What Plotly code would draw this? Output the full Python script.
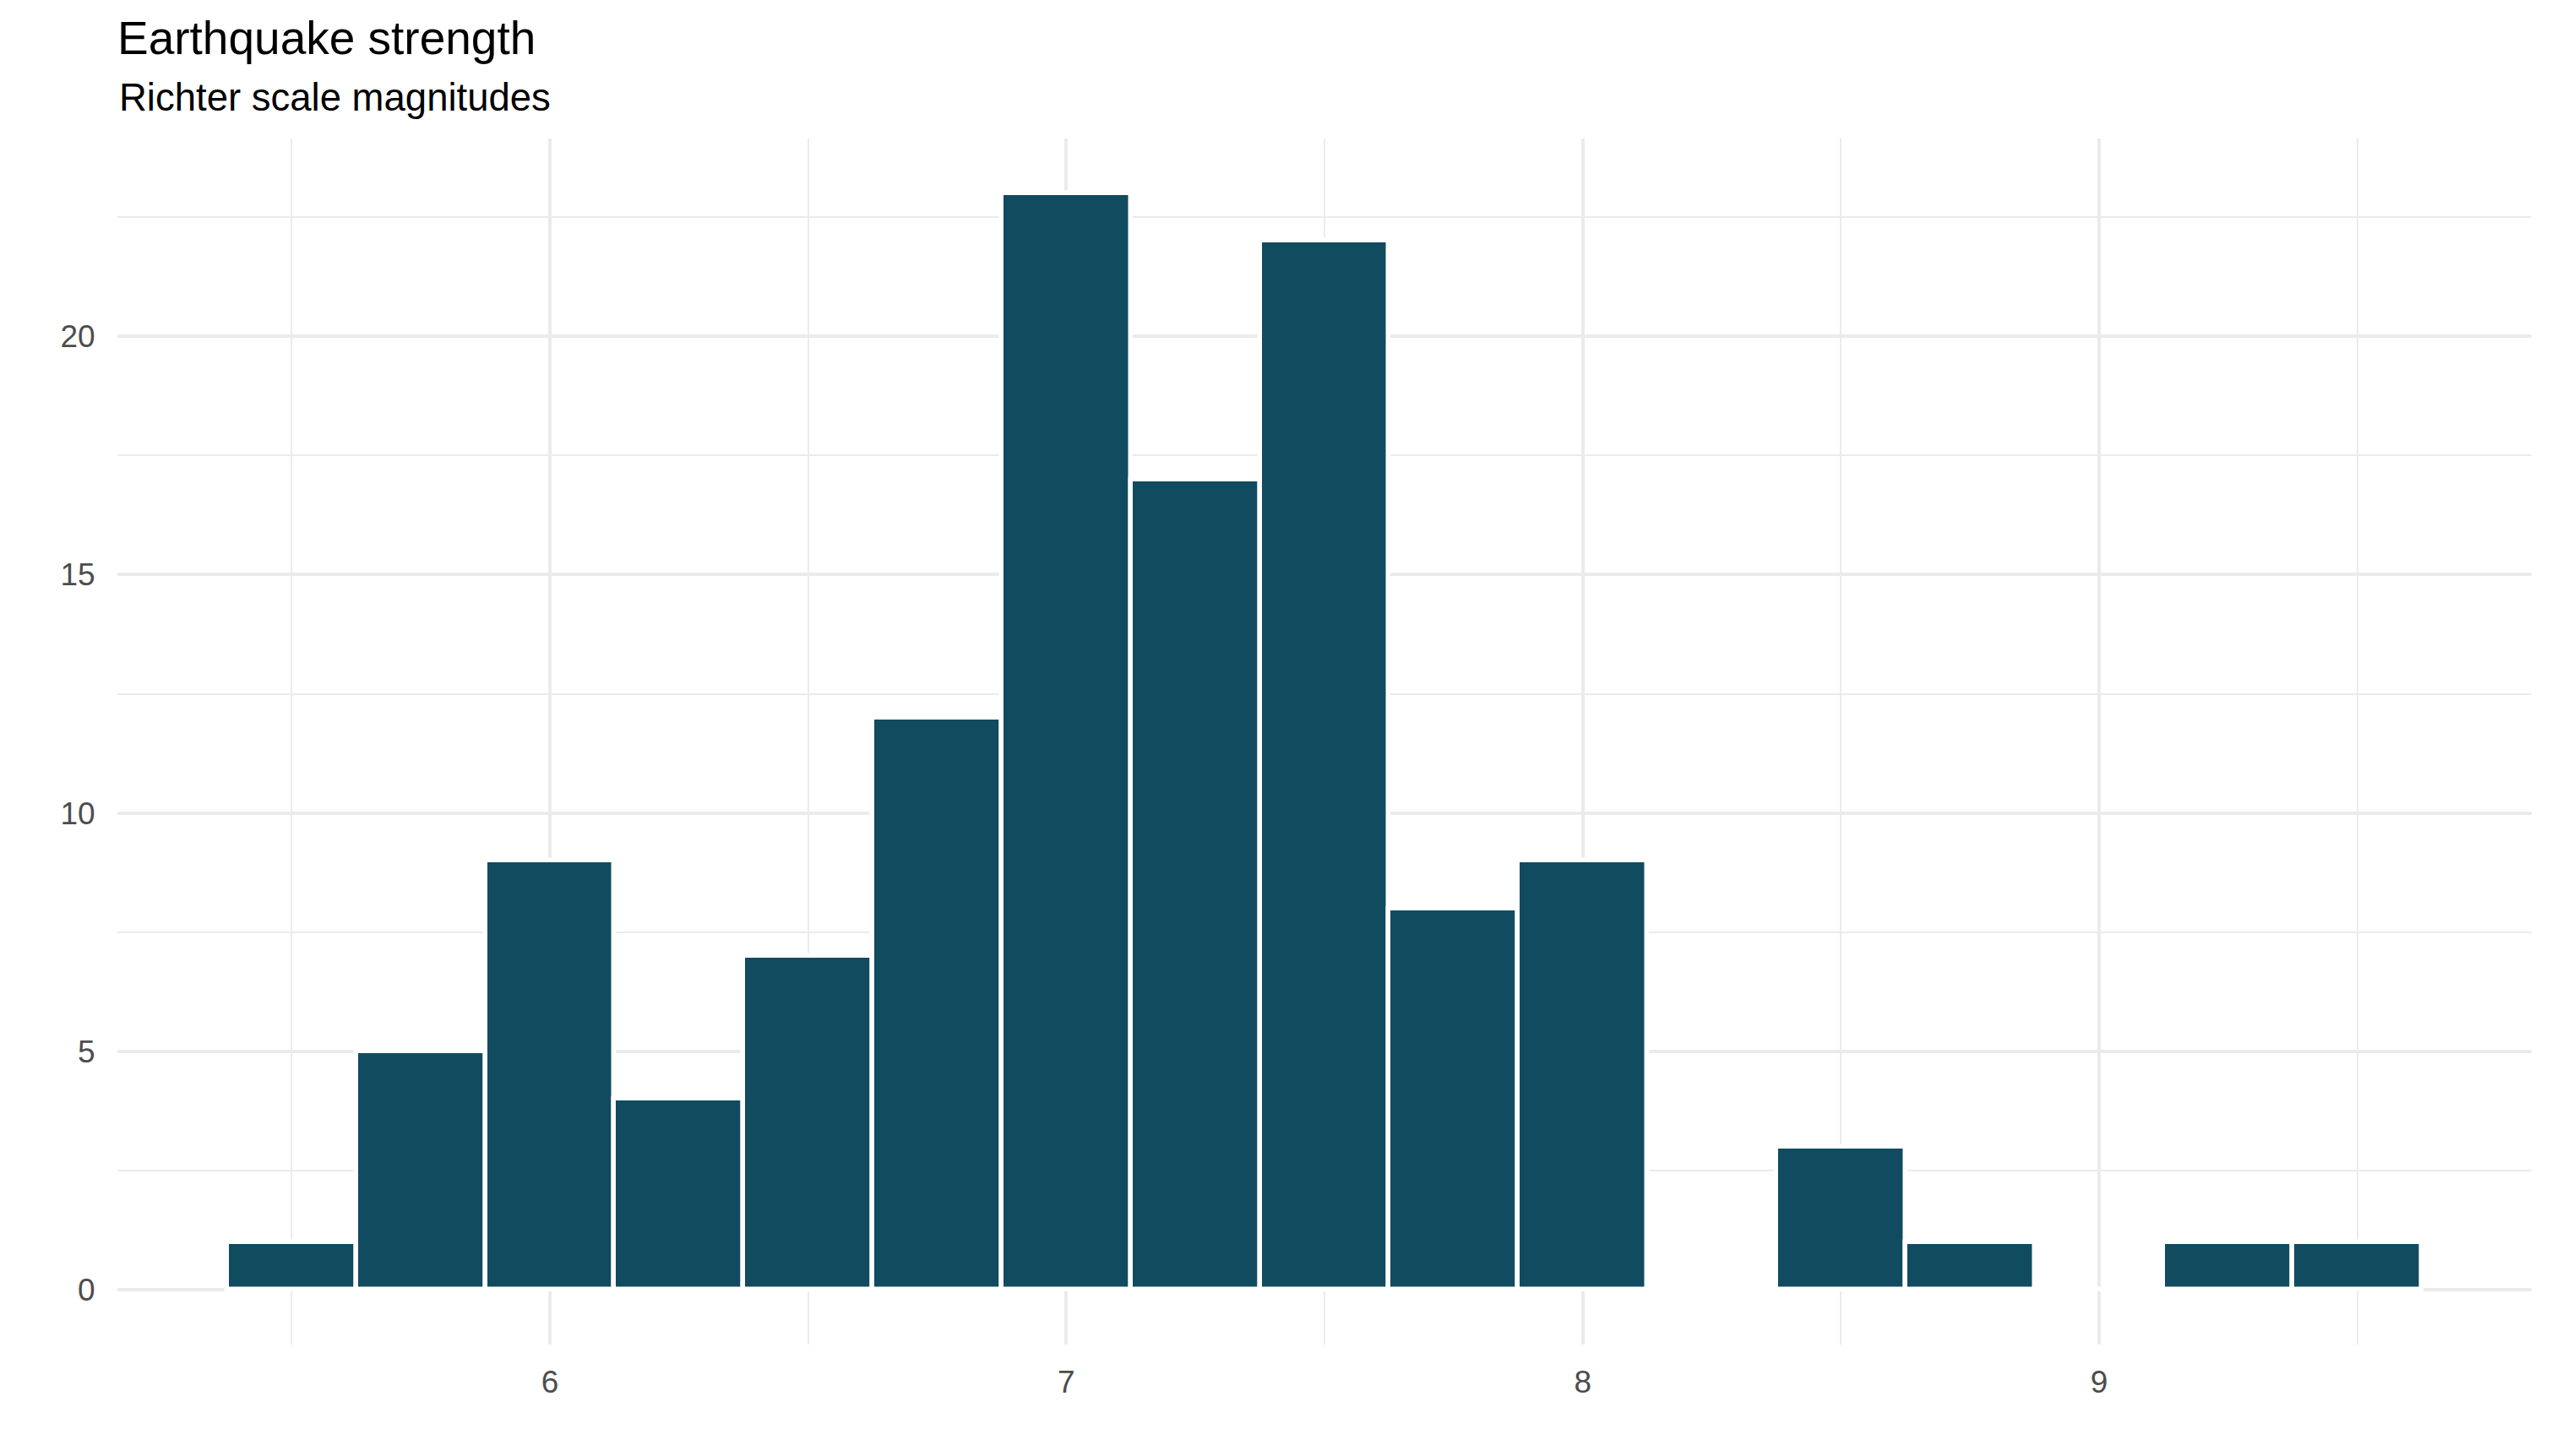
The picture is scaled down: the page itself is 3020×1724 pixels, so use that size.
import plotly.graph_objects as go

# Histogram of earthquake magnitudes (bin width 0.25)
bin_centers = [5.5, 5.75, 6.0, 6.25, 6.5, 6.75, 7.0, 7.25, 7.5, 7.75, 8.0, 8.25, 8.5, 8.75, 9.0, 9.25, 9.5]
counts = [1, 5, 9, 4, 7, 12, 23, 17, 22, 8, 9, 0, 3, 1, 0, 1, 1]
x_ticks = [6, 7, 8, 9]
y_ticks = [0, 5, 10, 15, 20]

title_text = "Earthquake strength"
subtitle_text = "Richter scale magnitudes"

bin_width = bin_centers[1] - bin_centers[0]
x_lo = bin_centers[0] - bin_width / 2
x_hi = bin_centers[-1] + bin_width / 2
x_pad = (x_hi - x_lo) * 0.05
y_hi = max(counts)
y_pad = y_hi * 0.05

# page body has an 8px margin in the browser; compensate so the figure lines up with the window
OFF = 8
W, H = 3020 - OFF, 1724 - OFF
M_L, M_R, M_T, M_B = 139 - OFF, 23, 164 - OFF, 132
FONT = "Liberation Sans"
GRID = "#EBEBEB"
INVIS = "rgba(0,0,0,0)"

fig = go.Figure(
    go.Bar(
        x=bin_centers,
        y=counts,
        width=bin_width,
        marker=dict(color="#114B5F", line=dict(color="white", width=5.5)),
        hoverinfo="skip",
    )
)

plot_h = H - M_T - M_B

fig.update_layout(
    width=W,
    height=H,
    margin=dict(l=M_L, r=M_R, t=M_T, b=M_B, pad=0),
    paper_bgcolor="white",
    plot_bgcolor="white",
    showlegend=False,
    bargap=0,
    font=dict(family=FONT, color="#4D4D4D"),
    title=dict(
        text=title_text,
        font=dict(family=FONT, size=55, color="black"),
        x=0,
        xref="paper",
        xanchor="left",
        y=1 - (45 - OFF) / H,
        yref="container",
        yanchor="middle",
    ),
    annotations=[
        dict(
            text=subtitle_text,
            xref="paper",
            yref="paper",
            x=0,
            y=1 + (M_T - (116 - OFF)) / plot_h,
            xanchor="left",
            yanchor="middle",
            showarrow=False,
            font=dict(family=FONT, size=45.5, color="black"),
        )
    ],
    xaxis=dict(
        range=[x_lo - x_pad, x_hi + x_pad],
        tickmode="array",
        tickvals=x_ticks,
        ticktext=[str(v) for v in x_ticks],
        showgrid=True,
        gridcolor=GRID,
        gridwidth=4,
        minor=dict(showgrid=True, gridcolor=GRID, gridwidth=2.2, dtick=0.5, tick0=0, ticks=""),
        zeroline=False,
        showline=False,
        ticks="outside",
        ticklen=12,
        tickcolor=INVIS,
        tickfont=dict(family=FONT, size=37, color="#4D4D4D"),
    ),
    yaxis=dict(
        range=[-y_pad, y_hi + y_pad],
        tickmode="array",
        tickvals=y_ticks,
        ticktext=[str(v) for v in y_ticks],
        showgrid=True,
        gridcolor=GRID,
        gridwidth=4,
        minor=dict(showgrid=True, gridcolor=GRID, gridwidth=2.2, dtick=2.5, tick0=0, ticks=""),
        zeroline=False,
        showline=False,
        ticks="outside",
        ticklen=18,
        tickcolor=INVIS,
        tickfont=dict(family=FONT, size=37, color="#4D4D4D"),
    ),
)

fig.write_html("out.html")
